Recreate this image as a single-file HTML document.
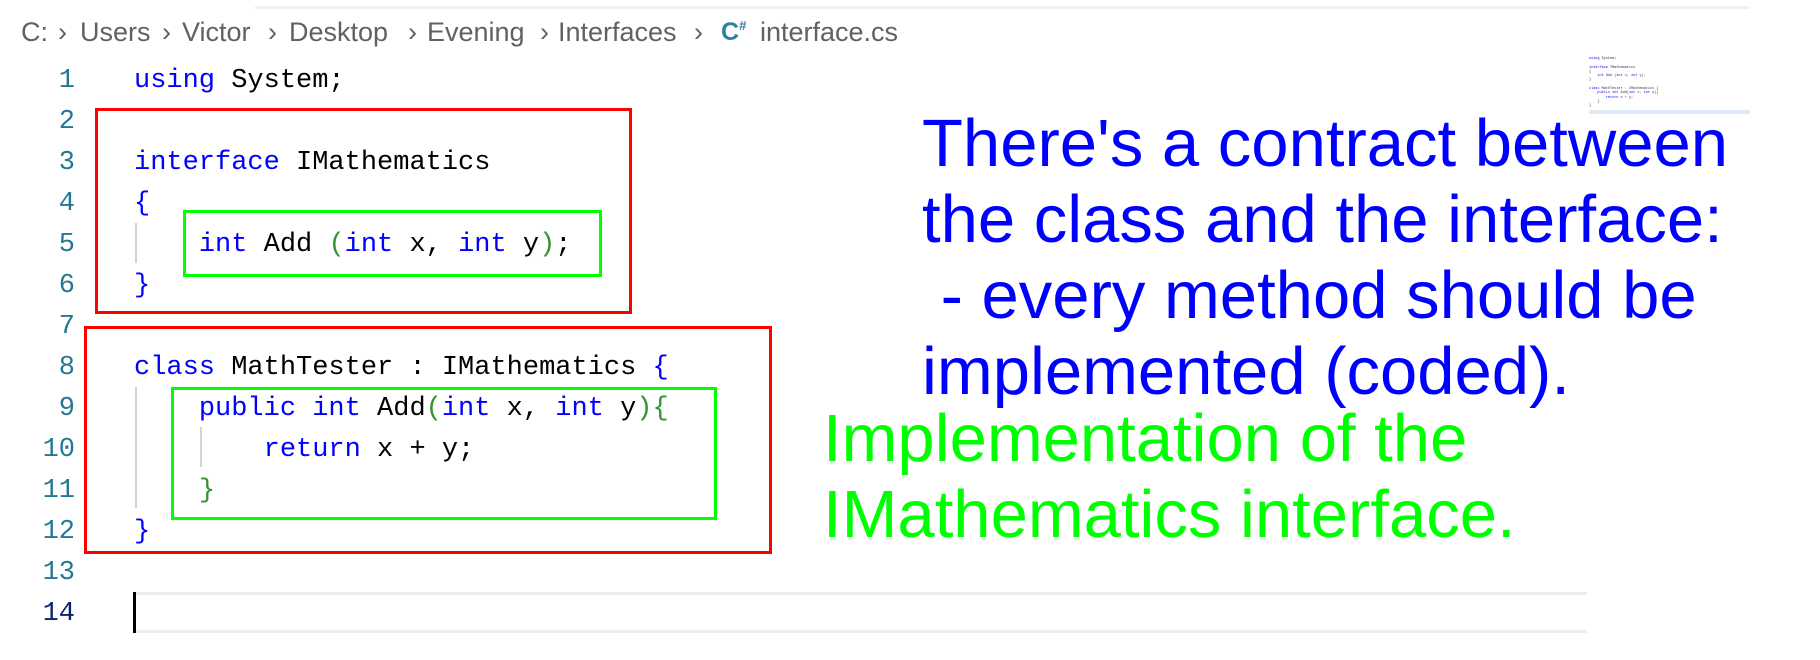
<!DOCTYPE html>
<html><head><meta charset="utf-8"><style>
html,body{margin:0;padding:0;background:#fff;}
body{width:1820px;height:660px;position:relative;overflow:hidden;}
.a{position:absolute;}
.bc{font-family:"Liberation Sans",sans-serif;font-size:27px;color:#616161;top:17px;white-space:nowrap;}
.ln{font-family:"Liberation Mono",monospace;font-size:27px;color:#237893;width:60px;text-align:right;left:15px;line-height:41px;}
.cd{font-family:"Liberation Mono",monospace;font-size:27px;color:#000;left:134px;line-height:41px;white-space:pre;}
.k{color:#0000ff}.g{color:#319331}
.box{position:absolute;box-sizing:border-box;}
.big{font-family:"Liberation Sans",sans-serif;font-size:67px;white-space:pre;line-height:76px;}
.guide{position:absolute;width:2px;background:#d3d3d3;}
</style></head><body>
<div class="a" style="left:255px;top:6px;width:1494px;height:3px;background:#f0f0f0"></div>

<div class="a bc" style="left:21px">C:</div>
<div class="a bc" style="left:58px">›</div>
<div class="a bc" style="left:80px">Users</div>
<div class="a bc" style="left:162px">›</div>
<div class="a bc" style="left:182px">Victor</div>
<div class="a bc" style="left:268px">›</div>
<div class="a bc" style="left:289px">Desktop</div>
<div class="a bc" style="left:408px">›</div>
<div class="a bc" style="left:427px">Evening</div>
<div class="a bc" style="left:540px">›</div>
<div class="a bc" style="left:558px">Interfaces</div>
<div class="a bc" style="left:694px">›</div>
<div class="a bc" style="left:721px;color:#2f7fa0;font-weight:bold;font-size:25px;top:18px">C<span style="font-size:13px;vertical-align:top">#</span></div>
<div class="a bc" style="left:760px">interface.cs</div>

<div class="a ln" style="top:61px">1</div>
<div class="a ln" style="top:102px">2</div>
<div class="a ln" style="top:143px">3</div>
<div class="a ln" style="top:184px">4</div>
<div class="a ln" style="top:225px">5</div>
<div class="a ln" style="top:266px">6</div>
<div class="a ln" style="top:307px">7</div>
<div class="a ln" style="top:348px">8</div>
<div class="a ln" style="top:389px">9</div>
<div class="a ln" style="top:430px">10</div>
<div class="a ln" style="top:471px">11</div>
<div class="a ln" style="top:512px">12</div>
<div class="a ln" style="top:553px">13</div>
<div class="a ln" style="top:594px;color:#0b216f">14</div>

<div class="a cd" style="top:61px"><span class="k">using</span> System;</div>
<div class="a cd" style="top:143px"><span class="k">interface</span> IMathematics</div>
<div class="a cd" style="top:184px"><span class="k">{</span></div>
<div class="a cd" style="top:225px">    <span class="k">int</span> Add <span class="g">(</span><span class="k">int</span> x, <span class="k">int</span> y<span class="g">)</span>;</div>
<div class="a cd" style="top:266px"><span class="k">}</span></div>
<div class="a cd" style="top:348px"><span class="k">class</span> MathTester : IMathematics <span class="k">{</span></div>
<div class="a cd" style="top:389px">    <span class="k">public</span> <span class="k">int</span> Add<span class="g">(</span><span class="k">int</span> x, <span class="k">int</span> y<span class="g">){</span></div>
<div class="a cd" style="top:430px">        <span class="k">return</span> x + y;</div>
<div class="a cd" style="top:471px">    <span class="g">}</span></div>
<div class="a cd" style="top:512px"><span class="k">}</span></div>

<div class="guide" style="left:135px;top:223px;height:40px"></div>
<div class="guide" style="left:135px;top:387px;height:121px"></div>
<div class="guide" style="left:200px;top:427px;height:40px"></div>

<div class="a" style="left:135px;top:592px;width:1452px;height:41px;box-sizing:border-box;border-top:3px solid #eeeeee;border-bottom:3px solid #eeeeee"></div>
<div class="a" style="left:133px;top:592px;width:3px;height:41px;background:#000"></div>

<div class="box" style="left:95px;top:108px;width:537px;height:206px;border:3px solid #ff0000"></div>
<div class="box" style="left:183px;top:210px;width:419px;height:67px;border:3px solid #00ff00"></div>
<div class="box" style="left:84px;top:326px;width:688px;height:228px;border:3px solid #ff0000"></div>
<div class="box" style="left:171px;top:387px;width:546px;height:133px;border:3px solid #00ff00"></div>

<div class="a" style="left:1589px;top:57px;font-family:'Liberation Mono',monospace;font-size:3.5px;line-height:4.3px;white-space:pre;color:#333"><span style="color:#00f">using</span> System;

<span style="color:#00f">interface</span> IMathematics
{
    <span style="color:#00f">int</span> Add (<span style="color:#00f">int</span> x, <span style="color:#00f">int</span> y);
}

<span style="color:#00f">class</span> MathTester : IMathematics {
    <span style="color:#00f">public int</span> Add(<span style="color:#00f">int</span> x, <span style="color:#00f">int</span> y){
        <span style="color:#00f">return</span> x + y;
    }
}</div>
<div class="a" style="left:1589px;top:110px;width:161px;height:4px;background:#dbe9f9"></div>

<div class="a big" style="left:922px;top:106px;color:#0000ff">There's a contract between
the class and the interface:
 - every method should be
implemented (coded).</div>
<div class="a big" style="left:823px;top:401px;color:#00ff00">Implementation of the
IMathematics interface.</div>
</body></html>
